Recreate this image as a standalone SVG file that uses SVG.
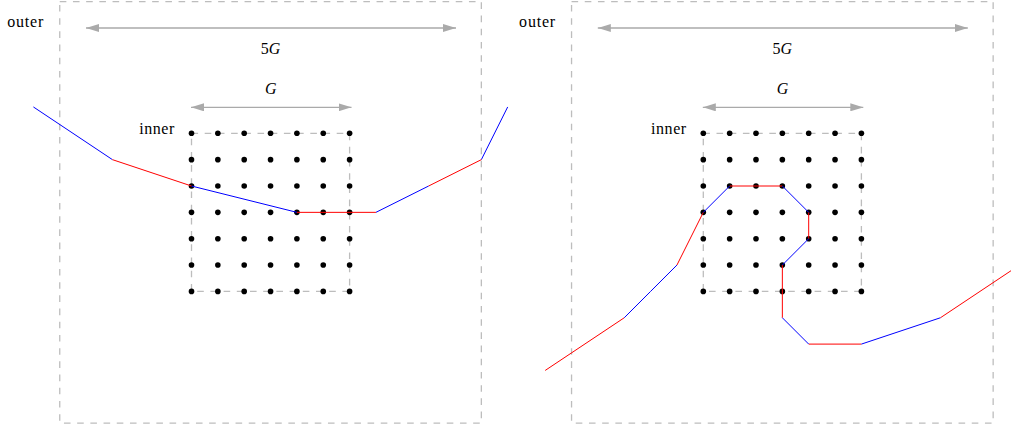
<svg xmlns="http://www.w3.org/2000/svg" width="1011" height="428" viewBox="0 0 1011 428">
<style>
.box{fill:none;stroke:#bdbdbd;stroke-width:1.3;stroke-dasharray:6.6 6.6}
.dim{fill:none;stroke:#aaaaaa;stroke-width:1.3;marker-start:url(#ah);marker-end:url(#ah)}
text{font-family:"Liberation Serif",serif;font-size:16px;fill:#000}
.dot{fill:#000}
</style>
<defs>
<marker id="ah" viewBox="0 0 13 8" refX="13" refY="4" markerWidth="13" markerHeight="8" markerUnits="userSpaceOnUse" orient="auto-start-reverse">
<path d="M0,0 L13,4 L0,8 z" fill="#aaaaaa"/>
</marker>
<g id="grid">
<circle class="dot" cx="0" cy="0" r="2.8"/><circle class="dot" cx="26.35" cy="0" r="2.8"/><circle class="dot" cx="52.7" cy="0" r="2.8"/><circle class="dot" cx="79.05" cy="0" r="2.8"/><circle class="dot" cx="105.4" cy="0" r="2.8"/><circle class="dot" cx="131.75" cy="0" r="2.8"/><circle class="dot" cx="158.1" cy="0" r="2.8"/>
</g>
<g id="dots">
<use href="#grid" y="0"/><use href="#grid" y="26.35"/><use href="#grid" y="52.7"/><use href="#grid" y="79.05"/><use href="#grid" y="105.4"/><use href="#grid" y="131.75"/><use href="#grid" y="158.1"/>
</g>
</defs>

<g id="left-panel">
<g id="left-outer">
<rect class="box" x="59.75" y="1.55" width="421.6" height="421.6"/>
<text x="7.3" y="27" textLength="36">outer</text>
</g>
<g id="left-dim5G">
<line class="dim" x1="86" y1="28" x2="456" y2="28"/>
<text x="260.7" y="54">5<tspan font-style="italic">G</tspan></text>
</g>
<g id="left-dimG">
<line class="dim" x1="191" y1="107.3" x2="351.5" y2="107.3"/>
<text font-style="italic" x="265" y="94">G</text>
</g>
<g id="left-inner">
<rect class="box" x="191.5" y="133.3" width="158.1" height="158.1"/>
<text x="139.3" y="134" textLength="35">inner</text>
<use href="#dots" x="191.5" y="133.3"/>
</g>
<g id="left-path" fill="none" stroke-width="1">
<path stroke="#0000ff" d="M33.4,106.95 L112.45,159.65 M191.5,186 L296.9,212.35 M375.95,212.35 L428.65,186 M481.35,159.65 L507.7,106.95"/>
<path stroke="#ff0000" d="M112.45,159.65 L191.5,186 M296.9,212.35 L375.95,212.35 M428.65,186 L481.35,159.65"/>
</g>
</g>

<g id="right-panel">
<g id="right-outer">
<rect class="box" x="571.55" y="1.55" width="421.6" height="421.6"/>
<text x="519.1" y="27" textLength="36">outer</text>
</g>
<g id="right-dim5G">
<line class="dim" x1="597.8" y1="28" x2="967.8" y2="28"/>
<text x="772.5" y="54">5<tspan font-style="italic">G</tspan></text>
</g>
<g id="right-dimG">
<line class="dim" x1="702.8" y1="107.3" x2="863.3" y2="107.3"/>
<text font-style="italic" x="776.8" y="94">G</text>
</g>
<g id="right-inner">
<rect class="box" x="703.3" y="133.3" width="158.1" height="158.1"/>
<text x="651.1" y="134" textLength="35">inner</text>
<use href="#dots" x="703.3" y="133.3"/>
</g>
<g id="right-path" fill="none" stroke-width="1">
<path stroke="#ff0000" d="M545.2,370.45 L624.25,317.75 M676.95,265.05 L703.3,212.35 M729.65,186 L782.35,186 M808.7,212.35 L808.7,238.7 M782.35,265.05 L782.35,317.75 M808.7,344.1 L861.4,344.1 M940.45,317.75 L1019.5,265.05"/>
<path stroke="#0000ff" d="M703.3,212.35 L729.65,186 M782.35,186 L808.7,212.35 M808.7,238.7 L782.35,265.05 M782.35,317.75 L808.7,344.1 M861.4,344.1 L940.45,317.75"/>
<path stroke="#0000ff" d="M624.25,317.75 L650.6,291.4 L676.95,265.05"/>
</g>
</g>
</svg>
